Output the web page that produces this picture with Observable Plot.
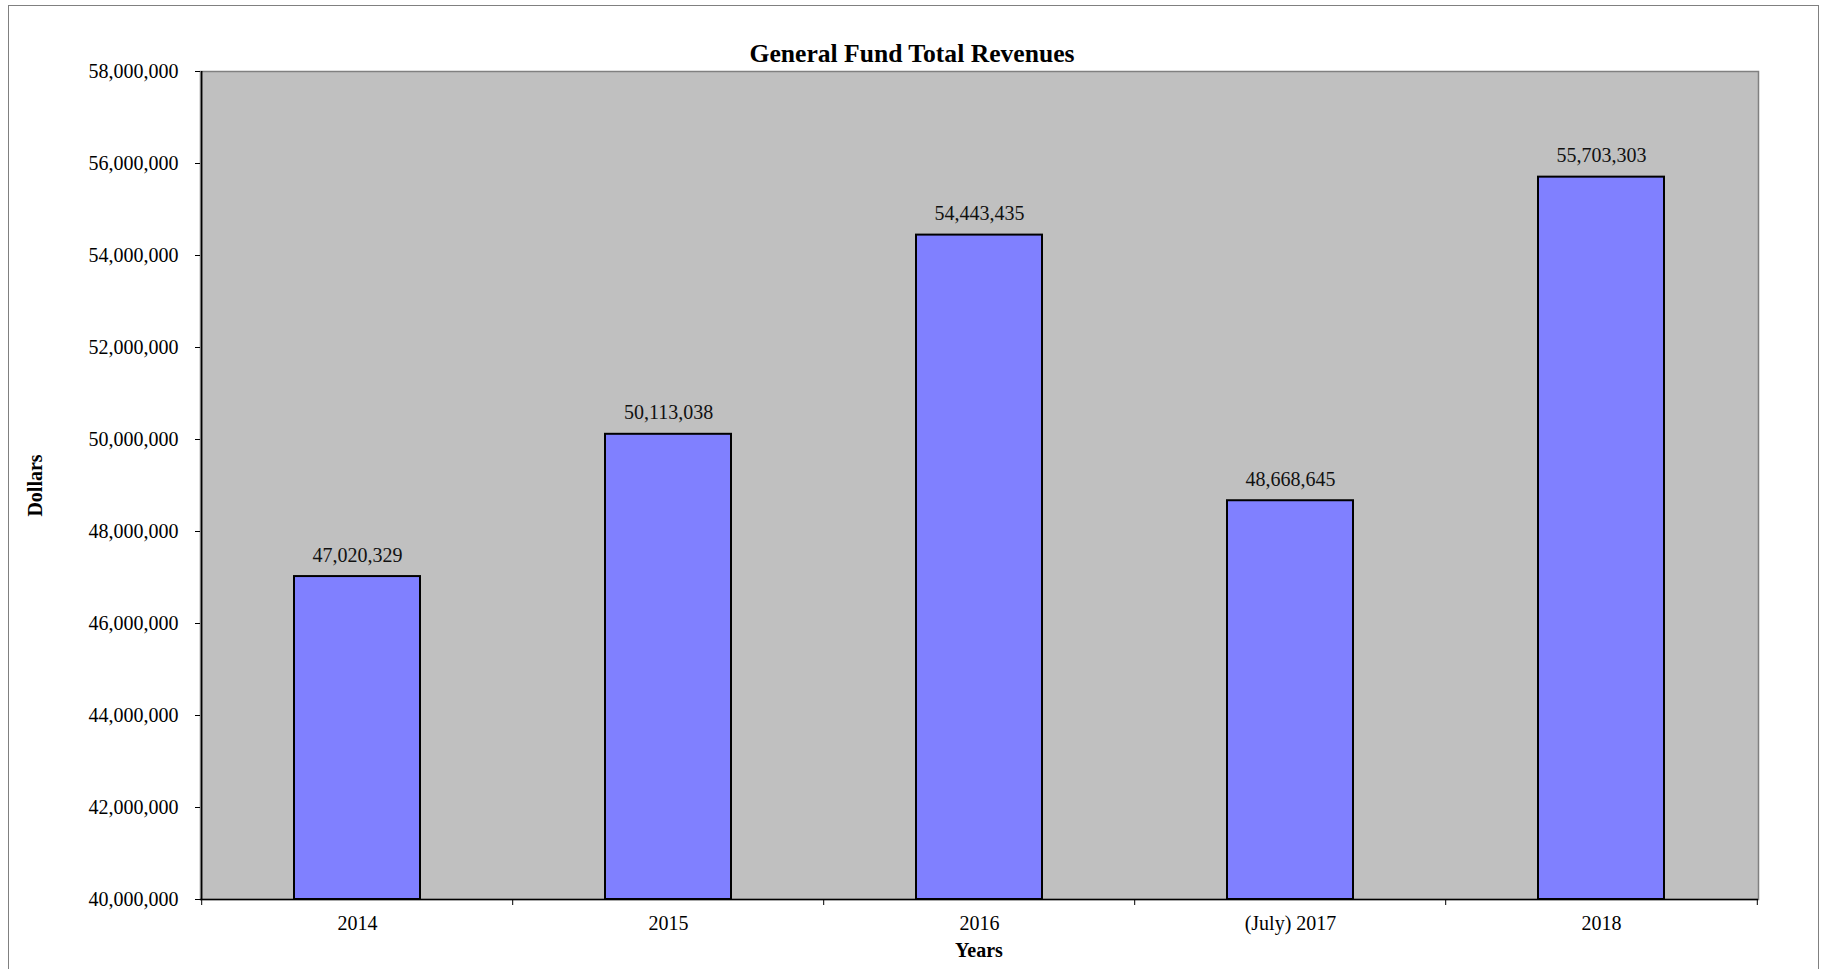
<!DOCTYPE html>
<html>
<head>
<meta charset="utf-8">
<script src="https://cdn.jsdelivr.net/npm/d3@7"></script>
<script src="https://cdn.jsdelivr.net/npm/@observablehq/plot@0.6"></script>
<style>
  html, body { margin: 0; padding: 0; background: #fff; overflow: hidden; }
  #page { position: relative; width: 1824px; height: 969px; font-family: "Times New Roman", "Liberation Serif", serif; }
  #border { position: absolute; left: 8px; top: 5px; width: 1811px; height: 1000px; border: 1px solid #808080; box-sizing: border-box; pointer-events: none; }
  #title { height: 60px; box-sizing: border-box; padding-top: 41px; line-height: 25px; font-size: 25.6px; font-weight: bold; text-align: center; color: #000; white-space: nowrap; }
  #chart { height: 875px; }
  #chart svg { display: block; }
  #xlabel { height: 34px; box-sizing: border-box; padding-top: 5px; line-height: 20px; font-size: 20px; font-weight: bold; color: #000; position: relative; }
  #xlabel span { position: absolute; left: 979px; transform: translateX(-50%); }
</style>
</head>
<body>
<div id="page">
  <div id="border"></div>
  <div id="title">General Fund Total Revenues</div>
  <div id="chart"></div>
  <div id="xlabel"><span>Years</span></div>
</div>
<script>
const years = ["2014", "2015", "2016", "(July) 2017", "2018"];
const revenues = [47020329, 50113038, 54443435, 48668645, 55703303];
const yTicks = [40000000, 42000000, 44000000, 46000000, 48000000, 50000000, 52000000, 54000000, 56000000, 58000000];
const yLabel = "Dollars";

const data = years.map((year, i) => ({year, value: revenues[i]}));
const fmt = d3.format(",");
const yMin = yTicks[0], yMax = yTicks[yTicks.length - 1];

const W = 1824, H = 875;
const mL = 200, mR = 66, mT = 11, mB = 36;
const step = (W - mL - mR) / years.length;
const plotH = H - mT - mB;
const font = "'Times New Roman', 'Liberation Serif', serif";

const chart = Plot.plot({
  width: W,
  height: H,
  marginLeft: mL,
  marginRight: mR,
  marginTop: mT,
  marginBottom: mB,
  style: {fontFamily: font, fontSize: "20px", color: "#000", background: "transparent", overflow: "visible"},
  x: {domain: years, paddingInner: 0.596, paddingOuter: 0.298, label: null},
  y: {domain: [yMin, yMax], label: null},
  marks: [
    Plot.frame({fill: "#C0C0C0", stroke: "#808080", strokeWidth: 1.5}),
    Plot.barY(data, {x: "year", y1: yMin, y2: "value", fill: "#8080FF", stroke: "#000", strokeWidth: 2}),
    Plot.text(data, {x: "year", y: "value", text: d => fmt(d.value), dy: -21.4, fontSize: 20, fill: "#111"}),
    Plot.ruleY([yMin], {stroke: "#000", strokeWidth: 1.5}),
    Plot.ruleX([years[0]], {dx: -step / 2, stroke: "#000", strokeWidth: 1.5}),
    // x ticks at category boundaries
    Plot.ruleX(years, {dx: -step / 2, insetTop: plotH, insetBottom: -6, stroke: "#000", strokeWidth: 1}),
    Plot.ruleX([years[years.length - 1]], {dx: step / 2, insetTop: plotH, insetBottom: -6, stroke: "#000", strokeWidth: 1}),
    Plot.axisX({tickSize: 0, tickPadding: 16, fontSize: 20, label: null}),
    Plot.axisY({ticks: yTicks, tickFormat: fmt, tickSize: 5, tickPadding: 17, fontSize: 20, label: null}),
    Plot.text([yLabel], {text: d => d, frameAnchor: "left", textAnchor: "middle", rotate: -90, dx: -165, fontWeight: "bold", fontSize: 20, fill: "#000"})
  ]
});
document.getElementById("chart").appendChild(chart);
</script>
</body>
</html>
